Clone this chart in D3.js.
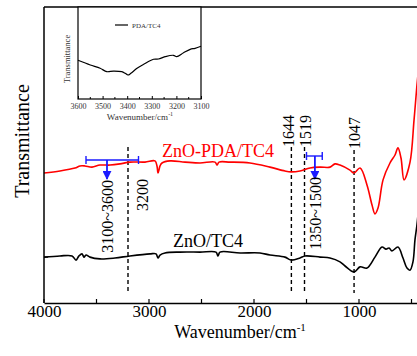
<!DOCTYPE html>
<html>
<head>
<meta charset="utf-8">
<script src="https://cdn.jsdelivr.net/npm/d3@7"></script>
<style>
  html, body { margin: 0; padding: 0; background: #fff; }
  svg { display: block; font-family: "Liberation Serif", "DejaVu Serif", serif; }
</style>
</head>
<body>
<svg id="chart" width="417" height="356"></svg>
<script>
// wavenumber (cm-1) and transmittance (a.u.)
const pdaWn = [4000, 3848, 3705, 3657, 3610, 3543, 3467, 3371, 3276, 3181, 3038, 2943, 2924, 2914, 2895, 2876, 2800, 2657, 2514, 2371, 2352, 2333, 2229, 2038, 1848, 1705, 1648, 1562, 1467, 1371, 1276, 1229, 1181, 1086, 1048, 990, 924, 876, 848, 819, 771, 705, 657, 629, 600, 571, 514, 476, 448, 430];
const pdaT  = [43.9, 44.6, 45.6, 46.3, 46.3, 45.9, 46.6, 46.6, 47.0, 47.6, 47.6, 48.0, 46.3, 43.9, 46.3, 47.3, 48.0, 47.6, 47.3, 47.6, 46.6, 47.6, 47.6, 47.3, 45.9, 44.6, 44.3, 44.6, 45.6, 45.9, 45.9, 47.0, 46.6, 44.9, 43.9, 45.6, 39.9, 33.1, 30.1, 32.1, 41.6, 47.3, 50.0, 52.4, 49.0, 41.6, 47.6, 61.8, 73.6, 80.0];

const znoWn = [4000, 3848, 3733, 3695, 3667, 3638, 3619, 3600, 3562, 3467, 3324, 3181, 2990, 2933, 2914, 2895, 2848, 2705, 2514, 2362, 2343, 2324, 2133, 1943, 1848, 1705, 1648, 1562, 1514, 1371, 1276, 1181, 1133, 1048, 990, 924, 848, 781, 743, 714, 686, 629, 581, 543, 514, 486, 467, 448, 430];
const znoT  = [15.5, 15.9, 15.9, 14.5, 15.9, 16.6, 15.5, 16.2, 15.5, 14.9, 15.2, 15.9, 16.6, 16.6, 15.2, 16.2, 16.9, 17.2, 17.2, 17.2, 15.9, 17.2, 16.9, 16.9, 16.2, 15.5, 14.5, 15.2, 15.9, 15.5, 15.2, 13.9, 12.5, 10.5, 12.2, 11.8, 15.5, 18.9, 18.2, 18.6, 17.6, 18.9, 15.2, 11.8, 11.1, 13.9, 21.3, 26.4, 33.0];

// inset: PDA/TC4 in the 3600-3100 range
const insetWn = [3600, 3550, 3510, 3483, 3456, 3422, 3408, 3397, 3385, 3360, 3333, 3293, 3273, 3246, 3212, 3199, 3171, 3144, 3124, 3100];
const insetT  = [42.1, 37.0, 33.4, 29.7, 30.4, 29.7, 27.9, 26.1, 27.9, 33.4, 37.7, 43.2, 43.5, 46.0, 47.5, 46.0, 50.3, 54.0, 55.1, 57.3];

const xTicks = [4000, 3000, 2000, 1000];
const xMinorTicks = [4000, 3500, 3000, 2500, 2000, 1500, 1000, 500];
const insetTicks = [3600, 3500, 3400, 3300, 3200, 3100];

const peakLines = [3200, 1644, 1519, 1047];
const bands = [
  { from: 3600, to: 3100, at: 3400, label: '3100~3600' },
  { from: 1500, to: 1350, at: 1420, label: '1350~1500' }
];

const svg = d3.select('#chart');

const x = d3.scaleLinear().domain([4000, 400]).range([44, 422]);
const y = d3.scaleLinear().domain([0, 100]).range([303, 7]);

svg.append('clipPath').attr('id', 'plotClip')
  .append('rect').attr('x', 44).attr('y', 7).attr('width', 380).attr('height', 296);

const line = d3.line().x(d => x(d[0])).y(d => y(d[1])).curve(d3.curveCatmullRom.alpha(0.5));

// dashed peak markers
svg.selectAll('.peak')
  .data(peakLines)
  .enter()
  .append('line')
  .attr('x1', d => x(d)).attr('x2', d => x(d))
  .attr('y1', d => d === 1047 ? 150 : 147)
  .attr('y2', 293)
  .attr('stroke', '#000')
  .attr('stroke-width', 1.4)
  .attr('stroke-dasharray', '4,3');

const g = svg.append('g').attr('clip-path', 'url(#plotClip)');

g.append('path')
  .attr('d', line(d3.zip(pdaWn, pdaT)))
  .attr('fill', 'none')
  .attr('stroke', '#ff0000')
  .attr('stroke-width', 1.6);

g.append('path')
  .attr('d', line(d3.zip(znoWn, znoT)))
  .attr('fill', 'none')
  .attr('stroke', '#000')
  .attr('stroke-width', 1.6);

// peak labels
const labelTop = { 3200: 179, 1644: 115, 1519: 115, 1047: 117 };
svg.selectAll('.peakLabel')
  .data(peakLines)
  .enter()
  .append('text')
  .attr('transform', d => `translate(${x(d) + (d === 3200 ? 20 : (d === 1644 ? 3 : 6))},${labelTop[d]}) rotate(-90)`)
  .attr('text-anchor', 'end')
  .style('font-size', '16px')
  .text(d => d);

// blue band brackets with arrows
svg.append('defs').append('marker')
  .attr('id', 'arrowBlue')
  .attr('viewBox', '0 0 10 10')
  .attr('refX', 9).attr('refY', 5)
  .attr('markerWidth', 5).attr('markerHeight', 5)
  .attr('orient', 'auto')
  .append('path').attr('d', 'M0,0 L10,5 L0,10 z').attr('fill', '#1a1aff');

const bandY = [160, 156];
bands.forEach((b, i) => {
  const by = bandY[i];
  const bg = svg.append('g').attr('stroke', '#1a1aff').attr('stroke-width', 1.4);
  bg.append('line').attr('x1', x(b.from)).attr('x2', x(b.to)).attr('y1', by).attr('y2', by);
  bg.append('line').attr('x1', x(b.from)).attr('x2', x(b.from)).attr('y1', by - 4).attr('y2', by + 4);
  bg.append('line').attr('x1', x(b.to)).attr('x2', x(b.to)).attr('y1', by - 4).attr('y2', by + 4);
  bg.append('line').attr('x1', x(b.at)).attr('x2', x(b.at)).attr('y1', by).attr('y2', by + (i === 0 ? 19 : 23))
    .attr('stroke-width', 1.8)
    .attr('marker-end', 'url(#arrowBlue)');
  svg.append('text')
    .attr('transform', `translate(${x(b.at) + 6},${i === 0 ? 180 : 177}) rotate(-90)`)
    .attr('text-anchor', 'end')
    .style('font-size', '16px')
    .text(b.label);
});

// series labels
svg.append('text').attr('x', 162).attr('y', 157).attr('fill', '#ff0000')
  .style('font-size', '18px').text('ZnO-PDA/TC4');
svg.append('text').attr('x', 173).attr('y', 247).attr('fill', '#000')
  .style('font-size', '18px').text('ZnO/TC4');

// main frame and axes
svg.append('line').attr('x1', 44).attr('x2', 417).attr('y1', 7).attr('y2', 7)
  .attr('stroke', '#000').attr('stroke-width', 1.5);
svg.append('line').attr('x1', 44).attr('x2', 44).attr('y1', 7).attr('y2', 303)
  .attr('stroke', '#000').attr('stroke-width', 1.5);

const xAxis = svg.append('g')
  .attr('transform', 'translate(0,303)')
  .call(d3.axisBottom(x).tickValues(xTicks).tickSize(0).tickPadding(2).tickFormat(d3.format('d')));
xAxis.select('.domain').attr('stroke-width', 1.5);
xAxis.selectAll('text').style('font-size', '17px').style('font-family', '"Liberation Serif", serif').attr('fill', '#000');

svg.append('g').selectAll('line')
  .data(xMinorTicks)
  .enter()
  .append('line')
  .attr('x1', d => x(d)).attr('x2', d => x(d))
  .attr('y1', 303).attr('y2', 299)
  .attr('stroke', '#000').attr('stroke-width', 1.2);

svg.append('line').attr('x1', 44).attr('x2', 48).attr('y1', y(15.5)).attr('y2', y(15.5))
  .attr('stroke', '#000').attr('stroke-width', 1.2);

const xLabel = svg.append('text').attr('x', 240).attr('y', 338).attr('text-anchor', 'middle')
  .style('font-size', '18px');
xLabel.append('tspan').text('Wavenumber/cm');
xLabel.append('tspan').attr('dy', -7).style('font-size', '11px').text('-1');

svg.append('text')
  .attr('transform', 'translate(29,141) rotate(-90)')
  .attr('text-anchor', 'middle')
  .style('font-size', '20px')
  .text('Transmittance');

// inset
const ix = d3.scaleLinear().domain([3600, 3100]).range([78, 201]);
const iy = d3.scaleLinear().domain([0, 100]).range([99, 7]);
const inset = svg.append('g');

inset.append('rect').attr('x', 78).attr('y', 7).attr('width', 123).attr('height', 92)
  .attr('fill', '#fff').attr('stroke', '#000').attr('stroke-width', 1.2);

inset.append('path')
  .attr('d', d3.line().x(d => ix(d[0])).y(d => iy(d[1])).curve(d3.curveCatmullRom.alpha(0.5))(d3.zip(insetWn, insetT)))
  .attr('fill', 'none').attr('stroke', '#000').attr('stroke-width', 1.2);

const ixAxis = inset.append('g')
  .attr('transform', 'translate(0,99)')
  .call(d3.axisBottom(ix).tickValues(insetTicks).tickSize(-3).tickPadding(4).tickFormat(d3.format('d')));
ixAxis.select('.domain').remove();
ixAxis.selectAll('text').style('font-size', '8px').style('font-family', '"Liberation Serif", serif').attr('fill', '#333');

inset.append('g').selectAll('line')
  .data(d3.range(3550, 3100, -100))
  .enter()
  .append('line')
  .attr('x1', d => ix(d)).attr('x2', d => ix(d))
  .attr('y1', 99).attr('y2', 97)
  .attr('stroke', '#000');

const ixLabel = inset.append('text').attr('x', 140).attr('y', 120).attr('text-anchor', 'middle')
  .style('font-size', '9px').attr('fill', '#333');
ixLabel.append('tspan').text('Wavenumber/cm');
ixLabel.append('tspan').attr('dy', -4).style('font-size', '6px').text('-1');

inset.append('text')
  .attr('transform', 'translate(70,59) rotate(-90)')
  .attr('text-anchor', 'middle')
  .style('font-size', '8.5px').attr('fill', '#333')
  .text('Transmittance');

inset.append('line').attr('x1', 115).attr('x2', 128).attr('y1', 25).attr('y2', 25)
  .attr('stroke', '#000').attr('stroke-width', 1.2);
inset.append('text').attr('x', 132).attr('y', 27.5)
  .style('font-size', '7px').attr('fill', '#333').text('PDA/TC4');
</script>
</body>
</html>
